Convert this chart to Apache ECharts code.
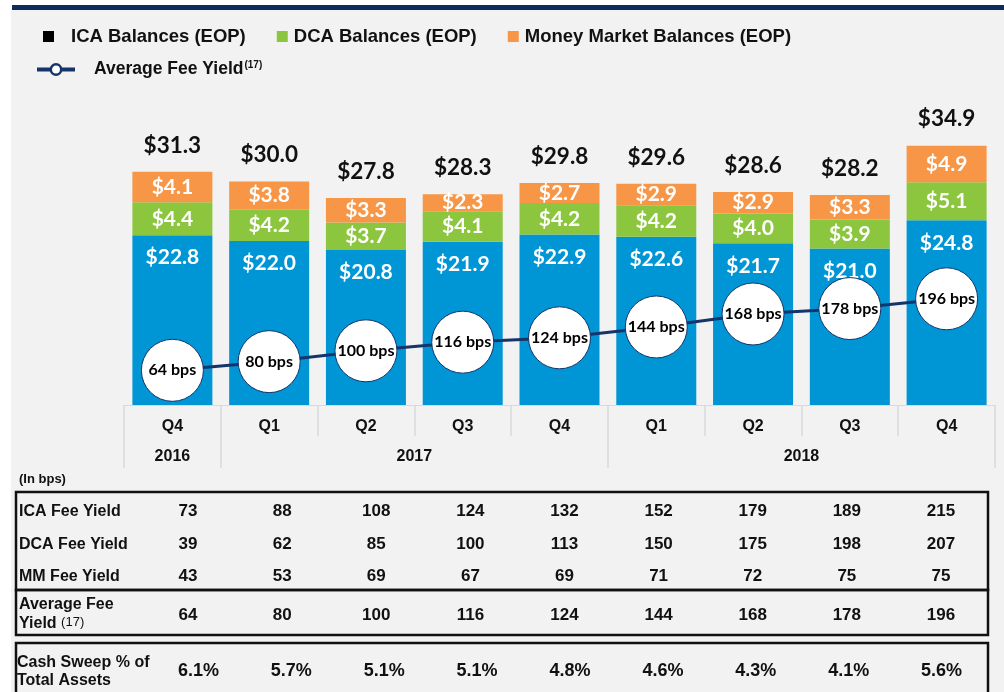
<!DOCTYPE html>
<html>
<head>
<meta charset="utf-8">
<script src="https://cdn.jsdelivr.net/npm/echarts@6/dist/echarts.min.js"></script>
<style>
  html, body { margin: 0; padding: 0; background: #fff; }
  #chart { width: 1004px; height: 692px; }
</style>
</head>
<body>
<div id="chart"></div>
<script>
// data
var quarters = ['Q4', 'Q1', 'Q2', 'Q3', 'Q4', 'Q1', 'Q2', 'Q3', 'Q4'];
var quarterYears = ['2016', '2017', '2017', '2017', '2017', '2018', '2018', '2018', '2018'];
var icaBalances = [22.8, 22.0, 20.8, 21.9, 22.9, 22.6, 21.7, 21.0, 24.8];
var dcaBalances = [4.4, 4.2, 3.7, 4.1, 4.2, 4.2, 4.0, 3.9, 5.1];
var mmBalances = [4.1, 3.8, 3.3, 2.3, 2.7, 2.9, 2.9, 3.3, 4.9];
var totalBalances = [31.3, 30.0, 27.8, 28.3, 29.8, 29.6, 28.6, 28.2, 34.9];
var avgFeeYield = [64, 80, 100, 116, 124, 144, 168, 178, 196];
var icaFeeYield = [73, 88, 108, 124, 132, 152, 179, 189, 215];
var dcaFeeYield = [39, 62, 85, 100, 113, 150, 175, 198, 207];
var mmFeeYield = [43, 53, 69, 67, 69, 71, 72, 75, 75];
var cashSweepPct = [6.1, 5.7, 5.1, 5.1, 4.8, 4.6, 4.3, 4.1, 5.6];

var BLUE = '#0096d6', GREEN = '#8cc63f', ORANGE = '#f79646', NAVY = '#15346a';
var ARIAL = '"Liberation Sans", Arial, sans-serif';
var CAL = 'Lato, "Open Sans", sans-serif';
var GRIDLINE = '#d9d9d9';

// group quarters by year for the second axis row
var groups = [];
quarterYears.forEach(function (y, i) {
  var last = groups[groups.length - 1];
  if (!last || last.year !== y) groups.push({ year: y, start: i, end: i });
  else last.end = i;
});
var yearCenters = groups.map(function (g) { return (g.start + g.end) / 2; });
var yearBounds = [-0.5].concat(groups.map(function (g) { return g.end + 0.5; }));

function money(p) { return '$' + p.value.toFixed(1); }

function segLabel(extra) {
  var l = { show: true, color: '#fff', fontFamily: CAL, fontWeight: 'bold', fontSize: 21, formatter: money };
  for (var k in extra) l[k] = extra[k];
  return l;
}

// one table row = one category axis with inside labels
function tableAxis(data, gridIndex, margin, fmt, size) {
  return {
    type: 'category', gridIndex: gridIndex, position: 'top', data: data,
    axisLine: { show: false }, axisTick: { show: false },
    axisLabel: {
      inside: true, margin: margin, interval: 0, color: '#111',
      fontFamily: ARIAL, fontWeight: 'bold', fontSize: size || 17,
      formatter: fmt || '{value}'
    }
  };
}

function legendText(pad) {
  return { fontSize: 18.5, fontWeight: 'bold', color: '#111', fontFamily: ARIAL, padding: [0, 0, 0, pad] };
}

var chart = echarts.init(document.getElementById('chart'));

var option = {
  animation: false,
  textStyle: { fontFamily: ARIAL },
  legend: [
    {
      data: [
        { name: 'ICA Balances (EOP)', itemStyle: { color: '#000' }, textStyle: legendText(12) },
        { name: 'DCA Balances (EOP)', textStyle: legendText(1) },
        { name: 'Money Market Balances (EOP)', textStyle: legendText(1) }
      ],
      left: 43, top: 27, padding: 0, icon: 'rect', itemWidth: 11, itemHeight: 11, itemGap: 31,
      selectedMode: false,
      textStyle: legendText(1)
    },
    {
      data: ['Average Fee Yield'],
      left: 35, top: 60, padding: 0, itemWidth: 38, itemHeight: 13, selectedMode: false,
      lineStyle: { width: 4, color: NAVY },
      itemStyle: { color: '#fff', borderColor: NAVY, borderWidth: 2.5 },
      formatter: function (name) { return '{a|' + name + '}{b|(17)}'; },
      textStyle: {
        padding: [0, 0, 0, 14],
        rich: {
          a: { fontSize: 17.5, fontWeight: 'bold', color: '#111', fontFamily: ARIAL },
          b: { fontSize: 10, fontWeight: 'bold', color: '#111', fontFamily: ARIAL, padding: [0, 0, 9, 1] }
        }
      }
    }
  ],
  grid: [
    { left: 124, right: 9, top: 107, bottom: 287 },
    { left: 141, right: 16, top: 492, height: 143 },
    { left: 152, right: 16, top: 643, height: 49 }
  ],
  xAxis: [
    {
      type: 'category', gridIndex: 0, data: quarters,
      axisLine: { lineStyle: { color: GRIDLINE, width: 1 } },
      axisTick: { show: true, interval: 0, length: 31, lineStyle: { color: GRIDLINE, width: 1.5 } },
      axisLabel: { interval: 0, margin: 14, color: '#111', fontFamily: ARIAL, fontWeight: 'bold', fontSize: 16 }
    },
    {
      type: 'value', gridIndex: 0, position: 'bottom', min: -0.5, max: 8.5, interval: 0.5,
      splitLine: { show: false }, axisLine: { show: false },
      axisTick: { show: true, customValues: yearBounds, length: 63, lineStyle: { color: GRIDLINE, width: 1.5 } },
      axisLabel: {
        customValues: yearCenters, margin: 44, color: '#111', fontFamily: ARIAL, fontWeight: 'bold', fontSize: 16,
        formatter: function (v) {
          for (var i = 0; i < groups.length; i++) {
            if (Math.abs(yearCenters[i] - v) < 1e-6) return groups[i].year;
          }
          return '';
        }
      }
    },
    tableAxis(icaFeeYield, 1, 11),
    tableAxis(dcaFeeYield, 1, 44),
    tableAxis(mmFeeYield, 1, 76),
    tableAxis(avgFeeYield, 1, 115),
    tableAxis(cashSweepPct, 2, 19, function (v) { return Number(v).toFixed(1) + '%'; }, 18)
  ],
  yAxis: [
    { type: 'value', gridIndex: 0, min: 0, max: 40, show: false },
    { type: 'value', gridIndex: 0, min: 0, max: 550, show: false },
    { type: 'value', gridIndex: 1, min: 0, max: 1, show: false },
    { type: 'value', gridIndex: 2, min: 0, max: 1, show: false }
  ],
  graphic: [
    { type: 'rect', z: -10, silent: true, shape: { x: 11, y: 10, width: 993, height: 682 }, style: { fill: '#f2f2f2' } },
    { type: 'rect', z: -9, silent: true, shape: { x: 12, y: 5, width: 992, height: 5 }, style: { fill: '#0e2b5c' } },
    { type: 'rect', silent: true, shape: { x: 16, y: 492, width: 972, height: 98 }, style: { fill: 'none', stroke: '#111', lineWidth: 2.5 } },
    { type: 'rect', silent: true, shape: { x: 16, y: 590, width: 972, height: 45 }, style: { fill: 'none', stroke: '#111', lineWidth: 2.5 } },
    { type: 'rect', silent: true, shape: { x: 16, y: 643, width: 972, height: 60 }, style: { fill: 'none', stroke: '#111', lineWidth: 2.5 } },
    { type: 'text', left: 19, top: 473, style: { text: '(In bps)', font: 'bold 13px ' + ARIAL, fill: '#111' } },
    { type: 'text', left: 19, top: 504, style: { text: 'ICA Fee Yield', font: 'bold 16px ' + ARIAL, fill: '#111' } },
    { type: 'text', left: 19, top: 537, style: { text: 'DCA Fee Yield', font: 'bold 16px ' + ARIAL, fill: '#111' } },
    { type: 'text', left: 19, top: 569, style: { text: 'MM Fee Yield', font: 'bold 16px ' + ARIAL, fill: '#111' } },
    {
      type: 'text', left: 19, top: 597,
      style: {
        text: '{a|Average Fee}\n{a|Yield }{b|(17)}',
        rich: {
          a: { fontSize: 16, fontWeight: 'bold', fontFamily: ARIAL, fill: '#111', lineHeight: 19 },
          b: { fontSize: 13, fontFamily: ARIAL, fill: '#111', lineHeight: 19, padding: [0, 0, 3, 0] }
        }
      }
    },
    {
      type: 'text', left: 17, top: 654,
      style: { text: 'Cash Sweep % of\nTotal Assets', font: 'bold 16px ' + ARIAL, fill: '#111', lineHeight: 18 }
    }
  ],
  series: [
    {
      name: 'ICA Balances (EOP)', type: 'bar', stack: 'bal', barWidth: 80, barGap: '-100%',
      itemStyle: { color: BLUE }, data: icaBalances,
      label: segLabel({ position: 'insideTop', distance: 12 })
    },
    {
      name: 'DCA Balances (EOP)', type: 'bar', stack: 'bal', barWidth: 80, barGap: '-100%',
      itemStyle: { color: GREEN }, data: dcaBalances,
      label: segLabel({ position: 'inside' })
    },
    {
      name: 'Money Market Balances (EOP)', type: 'bar', stack: 'bal', barWidth: 80, barGap: '-100%',
      itemStyle: { color: ORANGE }, data: mmBalances,
      label: segLabel({ position: 'inside' })
    },
    {
      name: 'Total', type: 'bar', barWidth: 80, barGap: '-100%', silent: true, z: 1,
      itemStyle: { color: 'rgba(0,0,0,0)' }, data: totalBalances,
      label: { show: true, position: 'top', distance: 15, color: '#111', fontFamily: CAL, fontWeight: 'bold', fontSize: 22.5, formatter: money }
    },
    {
      name: 'Average Fee Yield', type: 'line', yAxisIndex: 1, z: 5, data: avgFeeYield,
      symbol: 'circle', symbolSize: 62,
      lineStyle: { color: NAVY, width: 3 },
      itemStyle: { color: '#fff', borderColor: NAVY, borderWidth: 1 },
      label: {
        show: true, position: 'inside', color: '#000', fontFamily: CAL, fontWeight: 'bold', fontSize: 16,
        formatter: '{c} bps'
      }
    }
  ]
};

chart.setOption(option);
</script>
</body>
</html>
